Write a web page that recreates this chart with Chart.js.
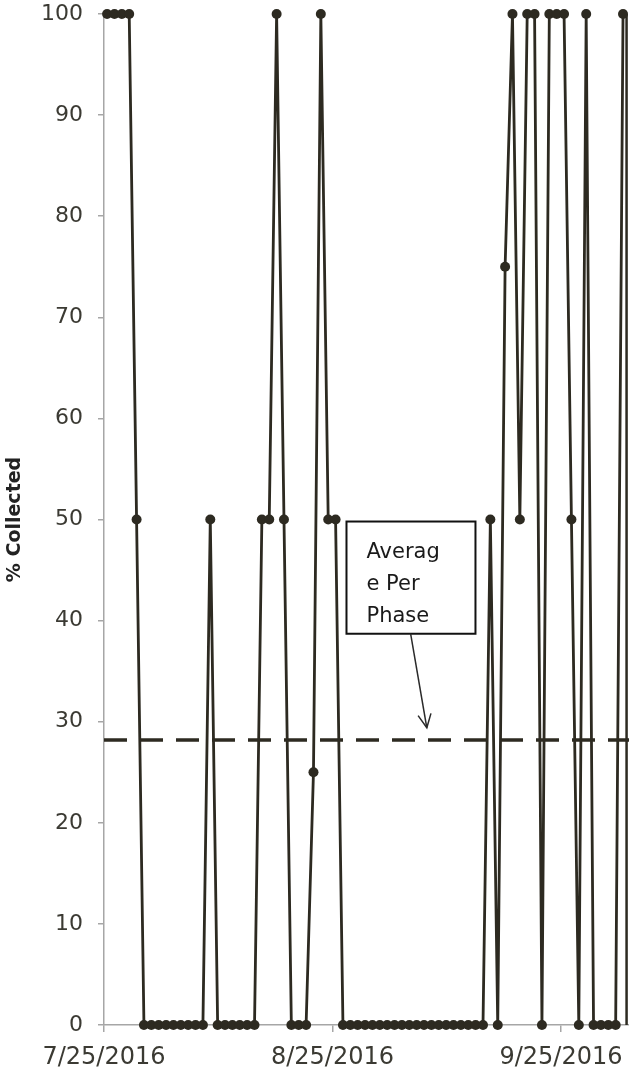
<!DOCTYPE html>
<html>
<head>
<meta charset="utf-8">
<script src="https://cdn.jsdelivr.net/npm/chart.js@4.4.1/dist/chart.umd.min.js"></script>
<style>
  html, body { margin: 0; padding: 0; background: #ffffff; overflow: hidden; }
  #wrap { width: 629px; height: 1073px; position: relative; }
</style>
</head>
<body>
<div id="wrap"><canvas id="c" width="629" height="1073"></canvas></div>
<script>
// Day number counted from 7/25/2016 (sessions recorded mid-morning)
const dayNumbers = [0,1,2,3,4,5,6,7,8,9,10,11,12,13,14,15,16,17,18,19,20,21,22,23,24,25,26,27,28,29,30,31,32,33,34,35,36,37,38,39,40,41,42,43,44,45,46,47,48,49,50,51,52,53,54,55,56,57,58,59,60,61,62,63,64,65,66,67,68,69,70];
const percentCollected = [100,100,100,100,50,0,0,0,0,0,0,0,0,0,50,0,0,0,0,0,0,50,50,100,50,0,0,0,25,100,50,50,0,0,0,0,0,0,0,0,0,0,0,0,0,0,0,0,0,0,0,0,50,0,75,100,50,100,100,0,100,100,100,50,0,100,0,0,0,0,100];
const sessionTime = 0.42;          // fraction of a day
const averagePerPhase = 28.2;
const phaseChangeDay = 70.9;
const xTickDays = [0, 31, 62];
const xTickLabels = ['7/25/2016', '8/25/2016', '9/25/2016'];
const yTicks = [0,10,20,30,40,50,60,70,80,90,100];
const noteText = ['Averag', 'e Per', 'Phase'];
// annotation box and arrow in data units
const noteBox = { x0: 32.9, x1: 50.4, yTop: 49.8, yBottom: 38.7 };
const noteArrow = { x0: 41.6, y0: 38.7, x1: 43.8, y1: 29.4 };

const INK = '#2d2a21';
const AXIS = '#a6a6a6';
const TEXT = '#3b3a33';
const FONT = "'DejaVu Sans', sans-serif";

const points = dayNumbers.map((d, i) => ({ x: d + sessionTime, y: percentCollected[i] }));
const avgLine = [{ x: 0, y: averagePerPhase }, { x: 72, y: averagePerPhase }];
const phaseLine = [{ x: phaseChangeDay, y: 0 }, { x: phaseChangeDay, y: 100 }];

const notePlugin = {
  id: 'note',
  afterDatasetsDraw(chart) {
    const ctx = chart.ctx;
    const xs = chart.scales.x, ys = chart.scales.y;
    const L = xs.getPixelForValue(noteBox.x0), R = xs.getPixelForValue(noteBox.x1);
    const T = ys.getPixelForValue(noteBox.yTop), B = ys.getPixelForValue(noteBox.yBottom);
    ctx.save();
    ctx.fillStyle = '#ffffff';
    ctx.fillRect(L, T, R - L, B - T);
    ctx.strokeStyle = '#111111';
    ctx.lineWidth = 2;
    ctx.strokeRect(L, T, R - L, B - T);
    ctx.fillStyle = '#1a1a1a';
    ctx.font = "21px " + FONT;
    ctx.textBaseline = 'alphabetic';
    noteText.forEach((t, i) => ctx.fillText(t, L + 20, T + 36 + i * 32));
    // arrow
    const ax0 = xs.getPixelForValue(noteArrow.x0), ay0 = ys.getPixelForValue(noteArrow.y0);
    const ax1 = xs.getPixelForValue(noteArrow.x1), ay1 = ys.getPixelForValue(noteArrow.y1);
    ctx.strokeStyle = '#2a2a2a';
    ctx.lineWidth = 1.5;
    ctx.beginPath(); ctx.moveTo(ax0, ay0); ctx.lineTo(ax1, ay1); ctx.stroke();
    const ang = Math.atan2(ay1 - ay0, ax1 - ax0);
    const hl = 15, spread = 0.45;
    ctx.beginPath();
    ctx.moveTo(ax1 - hl * Math.cos(ang - spread), ay1 - hl * Math.sin(ang - spread));
    ctx.lineTo(ax1, ay1);
    ctx.lineTo(ax1 - hl * Math.cos(ang + spread), ay1 - hl * Math.sin(ang + spread));
    ctx.stroke();
    ctx.restore();
  }
};

new Chart(document.getElementById('c'), {
  type: 'line',
  data: {
    datasets: [
      {
        label: 'Average Per Phase',
        data: avgLine,
        borderColor: INK,
        borderWidth: 3.5,
        borderDash: [23, 13],
        pointRadius: 0,
        fill: false,
        order: 3
      },
      {
        label: 'Phase change',
        data: phaseLine,
        borderColor: INK,
        borderWidth: 2.5,
        pointRadius: 0,
        fill: false,
        clip: false,
        order: 2
      },
      {
        label: '% Collected',
        data: points,
        borderColor: INK,
        backgroundColor: INK,
        borderWidth: 2.8,
        pointRadius: 5,
        pointBorderWidth: 0,
        pointBackgroundColor: INK,
        tension: 0,
        fill: false,
        clip: false,
        order: 1
      }
    ]
  },
  options: {
    responsive: false,
    animation: false,
    events: [],
    layout: { padding: { top: 14, left: 0, right: 0, bottom: 0 }, autoPadding: false },
    plugins: { legend: { display: false }, tooltip: { enabled: false } },
    scales: {
      x: {
        type: 'linear',
        min: 0,
        max: 71.23,
        afterBuildTicks(scale) { scale.ticks = xTickDays.map(v => ({ value: v })); },
        afterFit(scale) { scale.height = 48; scale.paddingLeft = 0; scale.paddingRight = 0; },
        ticks: {
          autoSkip: false,
          maxRotation: 0,
          padding: 11,
          color: TEXT,
          font: { family: FONT, size: 24 },
          callback: (v) => xTickLabels[xTickDays.indexOf(v)]
        },
        grid: { drawOnChartArea: false, drawTicks: true, tickLength: 7, color: AXIS, lineWidth: 1.5 },
        border: { color: AXIS, width: 1.5 }
      },
      y: {
        min: 0,
        max: 100,
        afterBuildTicks(scale) { scale.ticks = yTicks.map(v => ({ value: v })); },
        afterFit(scale) { scale.width = 104; scale.paddingTop = 0; scale.paddingBottom = 0; },
        ticks: {
          padding: 15,
          color: TEXT,
          font: { family: FONT, size: 22 }
        },
        grid: { drawOnChartArea: false, drawTicks: true, tickLength: 6, color: AXIS, lineWidth: 1.5 },
        border: { color: AXIS, width: 1.5 },
        title: {
          display: true,
          text: '% Collected',
          color: '#222222',
          font: { family: FONT, size: 19, weight: 'bold' },
          padding: { top: 4, bottom: 0 }
        }
      }
    }
  },
  plugins: [notePlugin]
});
</script>
</body>
</html>
